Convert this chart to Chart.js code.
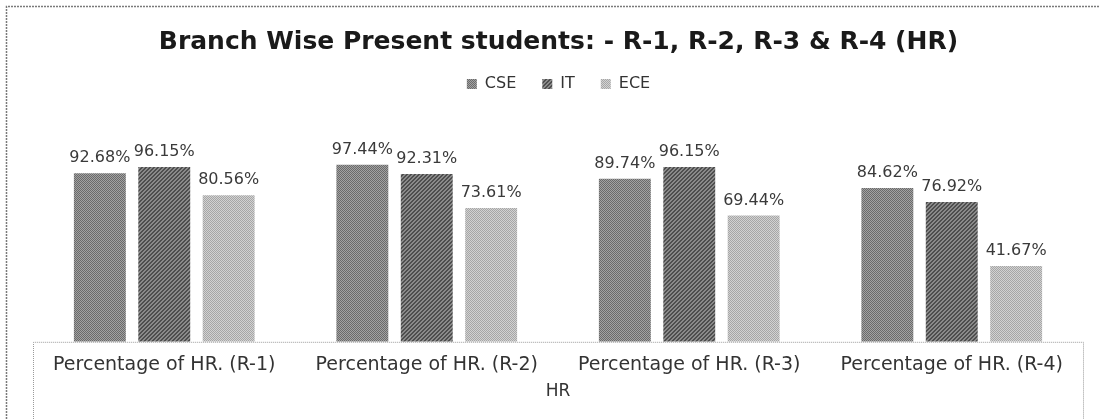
<!DOCTYPE html>
<html>
<head>
<meta charset="utf-8">
<script src="https://cdn.jsdelivr.net/npm/chart.js@4.4.1/dist/chart.umd.min.js"></script>
<style>
  html, body { margin: 0; padding: 0; background: #ffffff; }
  #wrap { width: 1099px; height: 419px; position: relative; }
</style>
</head>
<body>
<div id="wrap"><canvas id="chart" width="1099" height="419"></canvas></div>
<script>
// Categories, series and labels
const chartTitle = 'Branch Wise Present students: - R-1, R-2, R-3 & R-4 (HR)';
const categories = [
  'Percentage of HR. (R-1)',
  'Percentage of HR. (R-2)',
  'Percentage of HR. (R-3)',
  'Percentage of HR. (R-4)'
];
const seriesNames = ['CSE', 'IT', 'ECE'];
const cseValues = [92.68, 97.44, 89.74, 84.62];
const itValues  = [96.15, 92.31, 96.15, 76.92];
const eceValues = [80.56, 73.61, 69.44, 41.67];
const xAxisTitle = 'HR';

// Small halftone-like fills for the grey bars
function makePattern(base, ink, kind) {
  const c = document.createElement('canvas');
  c.width = 4; c.height = 4;
  const g = c.getContext('2d');
  g.fillStyle = base;
  g.fillRect(0, 0, 4, 4);
  g.fillStyle = ink;
  for (let i = 0; i < 4; i++) {
    for (let j = 0; j < 4; j++) {
      if (kind === 'checker' && (i + j) % 2 === 0) g.fillRect(i, j, 1, 1);
      if (kind === 'diag' && (i + j) % 4 < 2) g.fillRect(i, j, 1, 1);
    }
  }
  return g.createPattern(c, 'repeat');
}
const cseFill = makePattern('#a2a2a2', '#6a6a6a', 'checker');
const itFill  = makePattern('#8a8a8a', '#4e4e4e', 'diag');
const eceFill = makePattern('#d2d2d2', '#a6a6a6', 'checker');

// Extra room between the legend and the plot
const legendGap = {
  id: 'legendGap',
  beforeInit(chart) {
    const baseFit = chart.legend.fit;
    chart.legend.fit = function fit() {
      baseFit.bind(chart.legend)();
      this.height += 58;
    };
  }
};

// Page frame and the box round the category axis
const frames = {
  id: 'frames',
  beforeDraw(chart) {
    const { ctx, width, height } = chart;
    ctx.save();
    ctx.fillStyle = '#ffffff';
    ctx.fillRect(0, 0, width, height);
    ctx.strokeStyle = '#7a7a7a';
    ctx.lineWidth = 1.5;
    ctx.setLineDash([2, 1]);
    ctx.beginPath();
    ctx.moveTo(6.5, height);
    ctx.lineTo(6.5, 6.5);
    ctx.lineTo(width, 6.5);
    ctx.stroke();
    ctx.restore();
  },
  afterDraw(chart) {
    const { ctx, chartArea, height } = chart;
    ctx.save();
    ctx.strokeStyle = '#9a9a9a';
    ctx.lineWidth = 1;
    ctx.setLineDash([1, 1]);
    ctx.beginPath();
    ctx.moveTo(chartArea.left + 0.5, height);
    ctx.lineTo(chartArea.left + 0.5, chartArea.bottom + 0.5);
    ctx.lineTo(chartArea.right + 0.5, chartArea.bottom + 0.5);
    ctx.lineTo(chartArea.right + 0.5, height);
    ctx.stroke();
    ctx.restore();
  }
};

// Percentage written above each bar
const valueLabels = {
  id: 'valueLabels',
  afterDatasetsDraw(chart) {
    const { ctx } = chart;
    ctx.save();
    ctx.font = '16px "DejaVu Sans", Verdana, sans-serif';
    ctx.fillStyle = '#3a3a3a';
    ctx.textAlign = 'center';
    ctx.textBaseline = 'alphabetic';
    chart.data.datasets.forEach((ds, di) => {
      const meta = chart.getDatasetMeta(di);
      meta.data.forEach((bar, i) => {
        ctx.fillText(ds.data[i].toFixed(2) + '%', bar.x, bar.y - 11);
      });
    });
    ctx.restore();
  }
};

new Chart(document.getElementById('chart'), {
  type: 'bar',
  data: {
    labels: categories,
    datasets: [
      { label: seriesNames[0], data: cseValues, backgroundColor: cseFill },
      { label: seriesNames[1], data: itValues,  backgroundColor: itFill },
      { label: seriesNames[2], data: eceValues, backgroundColor: eceFill }
    ]
  },
  options: {
    responsive: false,
    devicePixelRatio: 1,
    animation: false,
    datasets: { bar: { categoryPercentage: 0.736, barPercentage: 0.806 } },
    layout: { padding: { left: 18, right: 0, top: 0, bottom: 0 } },
    plugins: {
      title: {
        display: true,
        text: chartTitle,
        color: '#1a1a1a',
        font: { family: '"DejaVu Sans", sans-serif', size: 25, weight: 'bold' },
        padding: { top: 27, bottom: -7 }
      },
      legend: {
        display: true,
        position: 'top',
        labels: {
          color: '#333333',
          font: { family: '"DejaVu Sans", sans-serif', size: 16 },
          boxWidth: 10,
          boxHeight: 10,
          padding: 26
        }
      },
      tooltip: { enabled: false }
    },
    scales: {
      x: {
        position: 'bottom',
        grid: { display: false, drawTicks: false },
        border: { display: false },
        ticks: {
          color: '#333333',
          font: { family: '"DejaVu Sans", sans-serif', size: 19 },
          padding: 12,
          maxRotation: 0,
          autoSkip: false
        },
        title: {
          display: true,
          text: xAxisTitle,
          color: '#333333',
          font: { family: '"DejaVu Sans", sans-serif', size: 17 },
          padding: { top: -7, bottom: 17 }
        }
      },
      y: {
        min: 0,
        max: 100,
        grid: { display: false, drawTicks: false },
        border: { display: false },
        ticks: { display: false },
        afterFit(scale) { scale.width = 15; }
      },
      yRight: {
        position: 'right',
        grid: { display: false, drawTicks: false },
        border: { display: false },
        ticks: { display: false },
        afterFit(scale) { scale.width = 16; }
      }
    }
  },
  plugins: [legendGap, frames, valueLabels]
});
</script>
</body>
</html>
